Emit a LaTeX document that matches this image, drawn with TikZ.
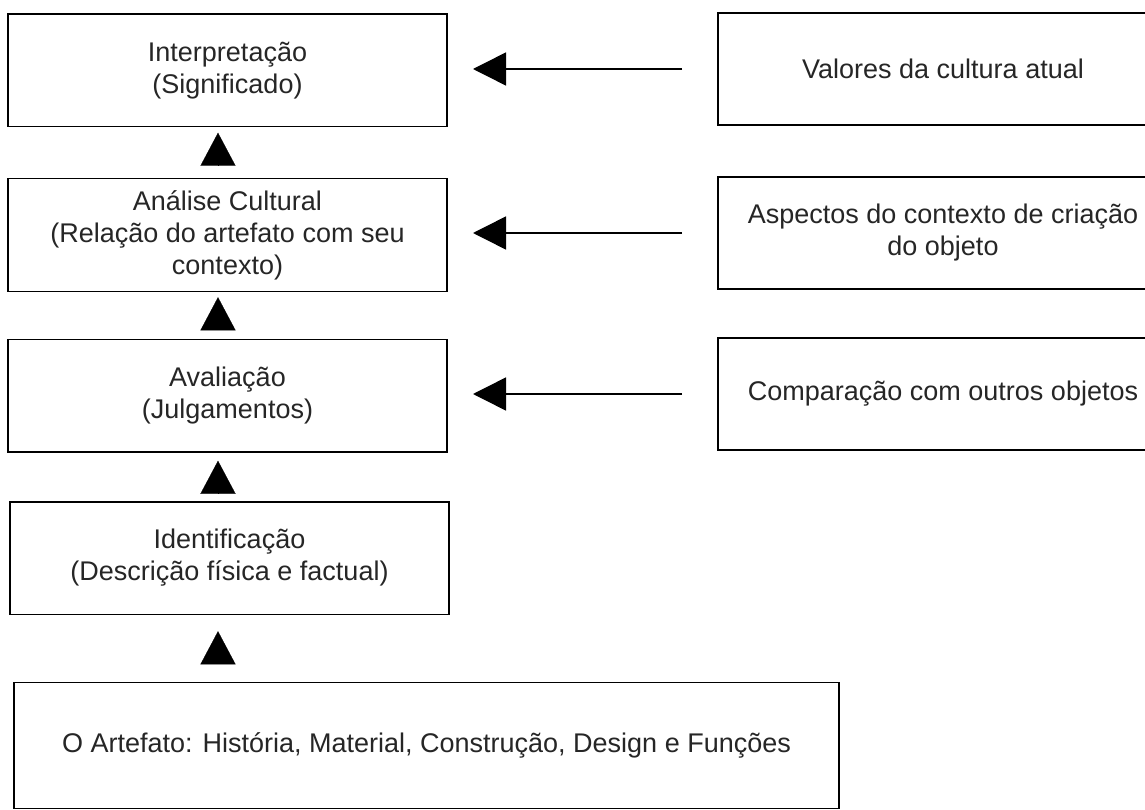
\documentclass[tikz,border=0pt]{standalone}
\usepackage{fontspec}
\newfontfamily\diagfont{Liberation Sans}
\usepackage{tikz}
\usetikzlibrary{positioning, arrows.meta}

\begin{document}
\begin{tikzpicture}[x=1pt, y=1pt,
        stage/.style={draw, line width=1.5pt, outer sep=0pt, minimum width=439pt, minimum height=112.5pt,
            align=center, text=black!85, font=\diagfont\fontsize{27}{32}\selectfont},
        source/.style={stage, minimum width=450pt, minimum height=112pt},
        rise/.style={-{Triangle[width=35pt,length=33pt]}, line width=0.2pt},
        feed/.style={-{Triangle[width=33pt,length=33pt]}, line width=1.5pt, shorten <=36pt, shorten >=26pt}]

        \useasboundingbox (0,0) rectangle (1145,-810);
        \clip (0,0) rectangle (1145,-810);
        \fill[white] (0,0) rectangle (1145,-810);

        \node[stage] (interp) at (227.5,-70.5) {Interpretação\\(Significado)};
        \node[stage] (analise) [below=52pt of interp] {Análise Cultural\\(Relação do artefato com seu\\contexto)};
        \node[stage] (aval) [below=48pt of analise] {Avaliação\\(Julgamentos)};
        \node[stage] (ident) [below=50pt of aval, xshift=2pt] {Identificação\\(Descrição física e factual)};
        \node[stage] (artefato) [below=68pt of ident.south west, anchor=north west, xshift=4pt,
            minimum width=825pt, minimum height=126pt] {O Artefato: História, Material, Construção, Design e Funções};

        \node[source] (valores) at (943,-69) {Valores da cultura atual};
        \node[source] (aspectos) [below=52pt of valores] {Aspectos do contexto de criação\\do objeto};
        \node[source] (comp) [below=49pt of aspectos] {Comparação com outros objetos};

        \coordinate (axis) at (218,0);

        % steps upwards
        \path
        (analise.north -| axis) edge[rise, shorten <=17pt, shorten >=6pt] (interp.south -| axis)
        (aval.north -| axis) edge[rise, shorten <=13pt, shorten >=6pt] (analise.south -| axis)
        (ident.north -| axis) edge[rise, shorten <=12pt, shorten >=9pt] (aval.south -| axis)
        (artefato.north -| axis) edge[rise, shorten <=22pt, shorten >=17pt] (ident.south -| axis);

        % inputs from the right
        \path
        (valores.west) edge[feed] (valores.west -| interp.east)
        (aspectos.west) edge[feed] (aspectos.west -| analise.east)
        (comp.west) edge[feed] (comp.west -| aval.east);

\end{tikzpicture}
\end{document}
